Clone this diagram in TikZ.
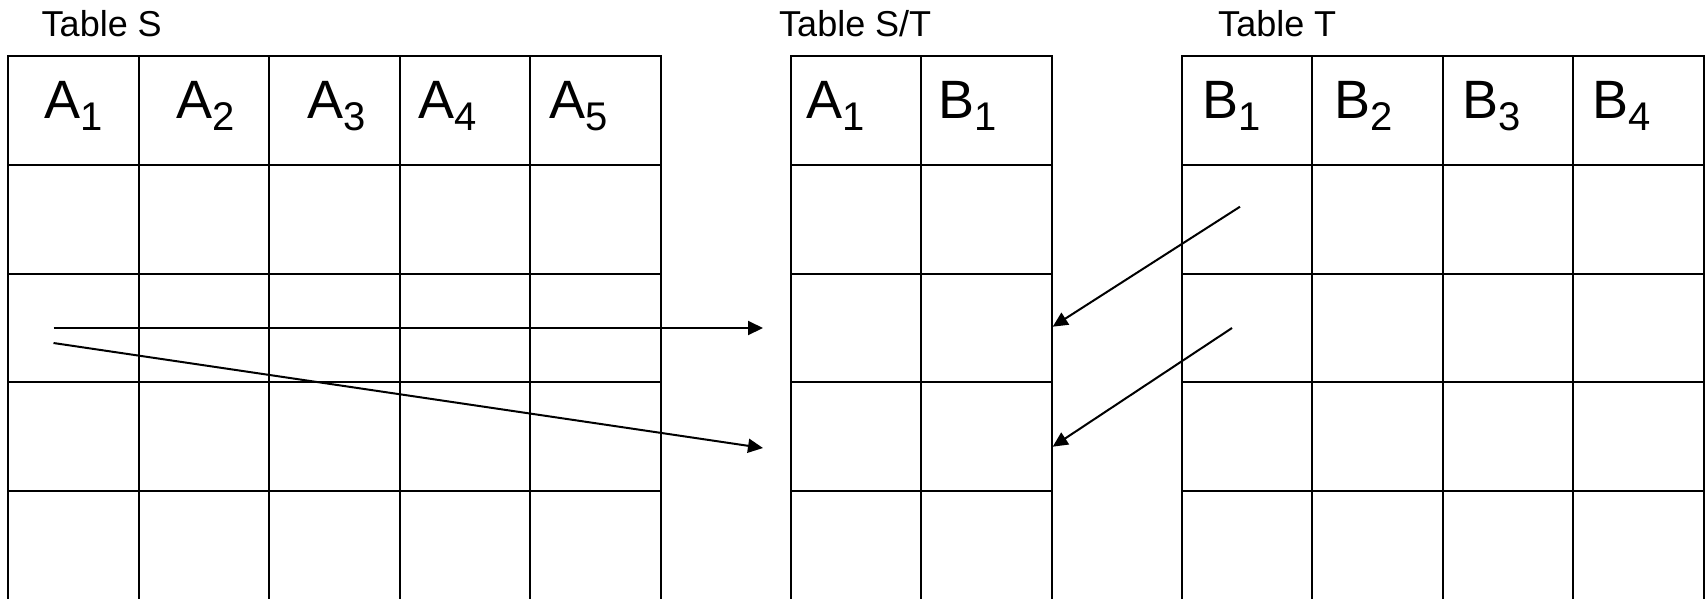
\documentclass[tikz,border=0pt]{standalone}
\usepackage{fontspec}
\setmainfont{Liberation Sans}
\usetikzlibrary{arrows.meta}
\tikzset{
  cell/.style={draw, line width=2pt, minimum width=130.5pt, minimum height=108.75pt,
    inner sep=0pt, outer sep=0pt, anchor=north west},
  title/.style={anchor=base west, inner sep=0pt, font=\fontsize{36}{36}\selectfont},
  hdr/.style={anchor=base west, inner sep=0pt, font=\fontsize{54}{54}\selectfont},
  link/.style={line width=2pt, -{Triangle[length=15pt,width=14pt]}},
}
\newcommand\hsub[2]{#1\raisebox{-12pt}{\fontsize{40}{40}\selectfont #2}}
\begin{document}
\begin{tikzpicture}[x=1pt,y=-1pt]
\useasboundingbox (0,0) rectangle (1705,598);
\clip (0,0) rectangle (1705,598);
% Table S
\foreach \c in {0,...,4} \foreach \r in {0,...,4}
  \node[cell] (S-\r-\c) at (8+130.5*\c, 56+108.75*\r) {};
% Table S/T
\foreach \c in {0,1} \foreach \r in {0,...,4}
  \node[cell] (ST-\r-\c) at (790.5+130.5*\c, 56+108.75*\r) {};
% Table T
\foreach \c in {0,...,3} \foreach \r in {0,...,4}
  \node[cell] (T-\r-\c) at (1181.5+130.5*\c, 56+108.75*\r) {};
% titles
\node[title] (tS) at (41.5,36) {Table S};
\node[title] (tST) at (779,36) {Table S/T};
\node[title] (tT) at (1218,36) {Table T};
% headers
\node[hdr] (hS1) at (44.5,118) {\hsub{A}{1}};
\node[hdr] (hS2) at (176,118) {\hsub{A}{2}};
\node[hdr] (hS3) at (307.5,118) {\hsub{A}{3}};
\node[hdr] (hS4) at (418,118) {\hsub{A}{4}};
\node[hdr] (hS5) at (549.5,118) {\hsub{A}{5}};
\node[hdr] (hST1) at (806,118) {\hsub{A}{1}};
\node[hdr] (hST2) at (938,118) {\hsub{B}{1}};
\node[hdr] (hT1) at (1202,118) {\hsub{B}{1}};
\node[hdr] (hT2) at (1334,118) {\hsub{B}{2}};
\node[hdr] (hT3) at (1462,118) {\hsub{B}{3}};
\node[hdr] (hT4) at (1592,118) {\hsub{B}{4}};
% arrows
\coordinate (p1) at (53.5,328);
\coordinate (q1) at (763,328);
\coordinate (p2) at (53.5,343);
\coordinate (q2) at (763,448);
\coordinate (p3) at (1240,206.7);
\coordinate (q3) at (1052.7,326.7);
\coordinate (p4) at (1232,328);
\coordinate (q4) at (1052.7,446.7);
\draw[link] (p1) -- (q1);
\draw[link] (p2) -- (q2);
\draw[link] (p3) -- (q3);
\draw[link] (p4) -- (q4);
\end{tikzpicture}
\end{document}
